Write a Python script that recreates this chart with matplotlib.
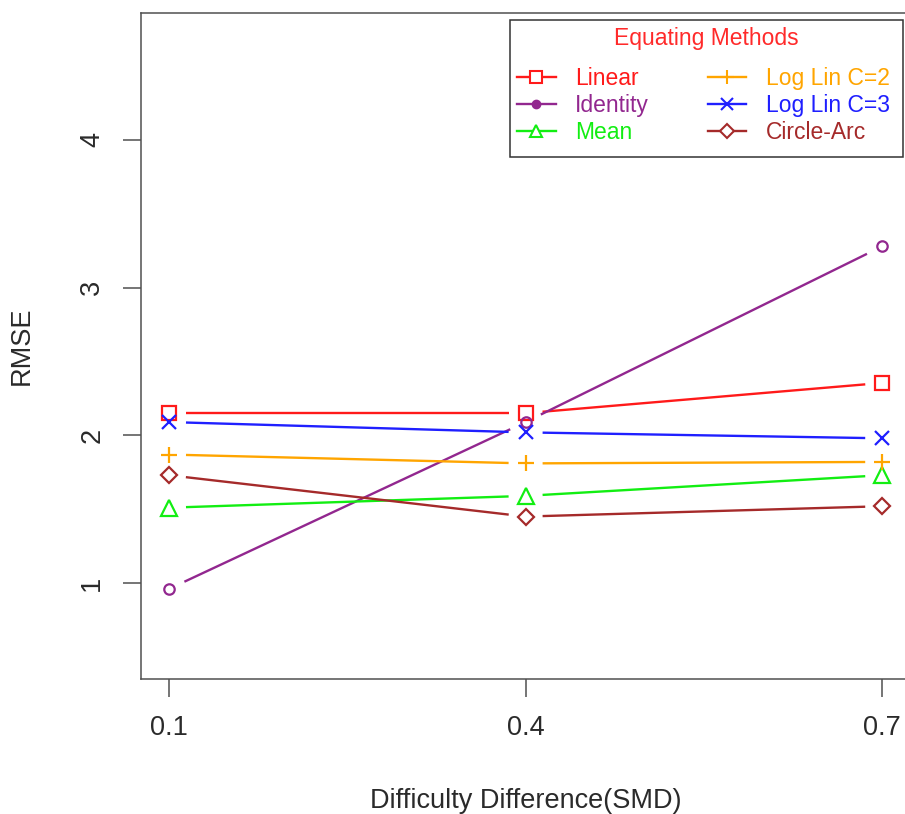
import numpy as np
import matplotlib.pyplot as plt
from matplotlib.lines import Line2D
from matplotlib.patches import Rectangle

plt.rcParams['font.family'] = ['Liberation Sans', 'DejaVu Sans']

# data
smd = [0.1, 0.4, 0.7]
smd_labels = ['0.1', '0.4', '0.7']
linear = [2.15, 2.15, 2.355]
identity = [0.96, 2.09, 3.28]
mean = [1.51, 1.59, 1.73]
loglin2 = [1.87, 1.81, 1.82]
loglin3 = [2.09, 2.02, 1.98]
circle_arc = [1.73, 1.45, 1.52]

names = ['Linear', 'Identity', 'Mean', 'Log Lin C=2', 'Log Lin C=3', 'Circle-Arc']
series = [linear, identity, mean, loglin2, loglin3, circle_arc]
colors = ['#ff1a1a', '#92278f', '#12ee12', '#ffa500', '#1f1fff', '#a52a2a']
markers = ['s', 'o', '^', '+', 'x', 'D']
msizes = [10, 7.5, 11, 12, 10, 8.5]

W, H = 905, 814
fig = plt.figure(figsize=(W / 100, H / 100), dpi=100)
ax = fig.add_axes([140.7 / W, (H - 679) / H, (910.5 - 140.7) / W, (679 - 12.7) / H])
ax.set_xlim(0.0762, 0.7238)
ax.set_ylim(0.35, 4.862)

axcol = '#505050'
for s in ax.spines.values():
    s.set_color(axcol)
    s.set_linewidth(1.1)

ax.set_xticks(smd)
ax.set_xticklabels(smd_labels)
ax.set_yticks([1, 2, 3, 4])
ax.set_yticklabels(['1', '2', '3', '4'], rotation=90, va='center')
ax.tick_params(axis='x', length=13, width=1.1, color=axcol, labelsize=19.5,
               labelcolor='#2a2a2a', pad=13)
ax.tick_params(axis='y', length=13, width=1.1, color=axcol, labelsize=19.5,
               labelcolor='#2a2a2a', pad=12.5)


def draw_series(x, y, color, marker, ms, gap=17):
    # R style type="b": segments stop short of the points
    pts = ax.transData.transform(np.column_stack([x, y]))
    inv = ax.transData.inverted()
    for p0, p1 in zip(pts[:-1], pts[1:]):
        d = p1 - p0
        L = np.hypot(d[0], d[1])
        if L <= 2 * gap:
            continue
        u = d / L
        seg = inv.transform(np.array([p0 + u * gap, p1 - u * gap]))
        ax.plot(seg[:, 0], seg[:, 1], color=color, lw=1.7, solid_capstyle='butt')
    ax.plot(x, y, ls='none', marker=marker, ms=ms, mfc='none', mec=color, mew=1.6)


for vals, c, m, ms in zip(series, colors, markers, msizes):
    draw_series(smd, vals, c, m, ms)

handles = []
for c, m, ms in zip(colors, markers, msizes):
    if m == 'o':
        handles.append(Line2D([], [], color=c, lw=1.7, marker='o', ms=6, mfc=c, mec=c))
    else:
        handles.append(Line2D([], [], color=c, lw=1.7, marker=m, ms=ms * 0.85,
                              mfc='white', mec=c, mew=1.5))

# legend box, title and entries (R legend look)
ax.add_patch(Rectangle((510 / W, 1 - 157 / H), 393 / W, 137 / H,
                       transform=fig.transFigure, facecolor='white', clip_on=False,
                       edgecolor='#333333', linewidth=1.1, zorder=4))
ax.text(706.5 / W, 1 - 39 / H, 'Equating Methods', transform=fig.transFigure,
        ha='center', va='center', fontsize=16.5, color='#ff2a2a', zorder=6)
leg = ax.legend(handles, names, ncol=2, loc='upper left',
                bbox_to_anchor=(517 / W, 1 - 67 / H), bbox_transform=fig.transFigure,
                borderaxespad=0, borderpad=0, fontsize=16.5, frameon=False,
                handlelength=1.69, handletextpad=0.85, columnspacing=2.55,
                labelspacing=0.17)
leg.set_zorder(7)
for t, c in zip(leg.get_texts(), colors):
    t.set_color(c)

fig.text(525.6 / W, 1 - 801 / H, 'Difficulty Difference(SMD)', ha='center', va='center',
         fontsize=19.5, color='#2a2a2a')
fig.text(22 / W, 1 - 346 / H, 'RMSE', ha='center', va='center', rotation=90,
         fontsize=19.5, color='#2a2a2a')

fig.savefig('out.png', dpi=100)
